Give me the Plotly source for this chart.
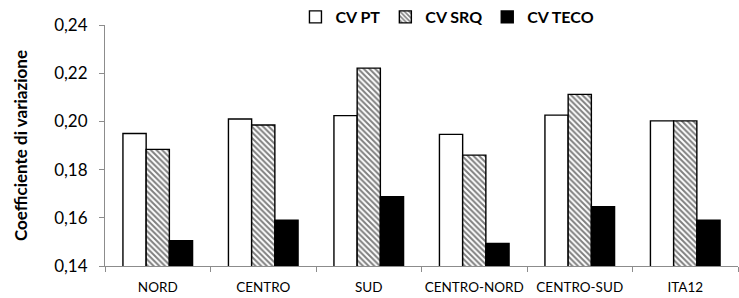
import plotly.graph_objects as go

categories = ["NORD", "CENTRO", "SUD", "CENTRO-NORD", "CENTRO-SUD", "ITA12"]
cv_pt = [0.1950, 0.2010, 0.2024, 0.1946, 0.2026, 0.2002]
cv_srq = [0.1884, 0.1985, 0.2221, 0.1860, 0.2112, 0.2002]
cv_teco = [0.1505, 0.1590, 0.1688, 0.1494, 0.1646, 0.1590]
y_ticks = [0.14, 0.16, 0.18, 0.20, 0.22, 0.24]

FONT = "Lato"

fig = go.Figure()
fig.add_trace(go.Bar(
    name="CV PT", x=categories, y=cv_pt,
    marker=dict(color="white", line=dict(color="black", width=1.4)),
))
fig.add_trace(go.Bar(
    name="CV SRQ", x=categories, y=cv_srq,
    marker=dict(color="white", line=dict(color="black", width=1.4),
                pattern=dict(shape="\\", fgcolor="black", bgcolor="white",
                             size=4, solidity=0.5)),
))
fig.add_trace(go.Bar(
    name="CV TECO", x=categories, y=cv_teco,
    marker=dict(color="black", line=dict(color="black", width=1.4)),
))

fig.update_layout(
    width=739, height=298,
    margin=dict(l=105, r=1, t=25, b=32, autoexpand=False),
    plot_bgcolor="white", paper_bgcolor="white",
    barmode="group", bargap=0.34, bargroupgap=0,
    separators=",.",
    font=dict(family=FONT, color="black", size=13),
    showlegend=True,
    legend=dict(orientation="h", x=0.541, xanchor="center",
                yref="container", y=0.943, yanchor="middle",
                font=dict(family=FONT, size=16, color="black", weight="bold"),
                itemwidth=30, bgcolor="rgba(0,0,0,0)", traceorder="normal"),
)
fig.update_yaxes(
    range=[0.14, 0.24], tickvals=y_ticks, tickformat=".2f",
    showgrid=False, zeroline=False, automargin=False,
    showline=True, linecolor="#8c8c8c", linewidth=1,
    ticks="outside", ticklen=5, tickcolor="#8c8c8c", ticklabelstandoff=8,
    tickfont=dict(size=17, family=FONT),
    title=dict(text="Coefficiente di variazione", standoff=22,
               font=dict(size=17, family=FONT, weight="bold")),
)
fig.update_xaxes(
    showgrid=False, showline=True, linecolor="#8c8c8c", linewidth=1,
    automargin=False, tickangle=0,
    ticks="outside", ticklen=5, tickcolor="#8c8c8c", tickson="boundaries",
    ticklabelstandoff=9,
    tickfont=dict(size=13.5, family=FONT),
)

fig.write_html("out.html", config={"displayModeBar": False},
               post_script="document.body.style.margin='0';")
